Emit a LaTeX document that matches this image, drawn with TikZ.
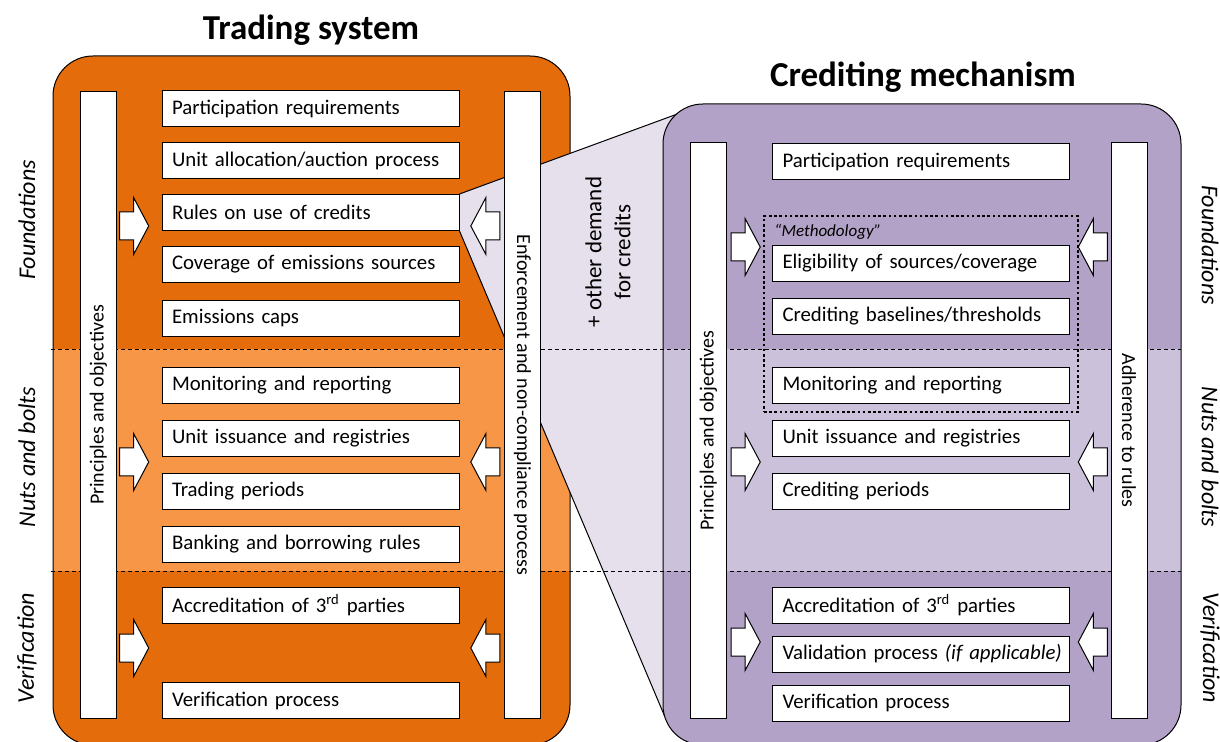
\documentclass[tikz,border=0pt]{standalone}
\usepackage{fontspec}
\setmainfont{Carlito}
\usepackage{tikz}
\usetikzlibrary{positioning, shapes.arrows, fit, backgrounds}

\definecolor{tsdark}{HTML}{E46C0A}
\definecolor{tslight}{HTML}{F79646}
\definecolor{cmdark}{HTML}{B3A2C7}
\definecolor{cmlight}{HTML}{CCC1DA}
\definecolor{funnel}{HTML}{E5E0EC}

\tikzset{
	box/.style={draw, fill=white, line width=0.5pt, text width=138.5pt, inner xsep=5pt, inner ysep=0pt,
		minimum height=18pt, align=left, font=\fontsize{10.4}{12}\selectfont},
	bar/.style={draw, fill=white, line width=0.5pt, minimum height=18pt, inner sep=0pt,
		font=\fontsize{10}{12}\selectfont},
	arr/.style={single arrow, draw, fill=white, line width=0.5pt, inner xsep=0pt, inner ysep=6.75pt,
		minimum height=14.5pt, single arrow head extend=7.25pt, single arrow tip angle=124},
	side/.style={font=\fontsize{12}{14}\selectfont\itshape},
	title/.style={font=\fontsize{17.5}{21}\selectfont\bfseries},
	band/.style={line width=0.4pt, dash pattern=on 2pt off 1.5pt},
	methbox/.style={draw, line width=1.3pt, dash pattern=on 1.3pt off 1.3pt, inner sep=4pt}
}

\begin{document}
\begin{tikzpicture}[x=0.5pt, y=-0.5pt]
		\useasboundingbox (0,0) rectangle (1220,742);

		\node[title] (ts-title) at (311,30) {Trading system};
		\node[title] (cm-title) at (923,77) {Crediting mechanism};

		\node[side, rotate=90] (ts-found) at (27,220) {Foundations};
		\node[side, rotate=90] (ts-nuts) at (27,457) {Nuts and bolts};
		\node[side, rotate=90] (ts-verif) at (27,648) {Verification};
		\node[side, rotate=-90] (cm-found) at (1210,245) {Foundations};
		\node[side, rotate=-90] (cm-nuts) at (1210,457) {Nuts and bolts};
		\node[side, rotate=-90] (cm-verif) at (1210,648) {Verification};

		\node[bar, rotate=90, minimum width=313pt] (ts-prin) at (98.5,405) {Principles and objectives};
		\node[bar, rotate=-90, minimum width=313pt] (ts-enf) at (522.5,405) {Enforcement and non-compliance process};
		\node[bar, rotate=90, minimum width=287.5pt] (cm-prin) at (708.5,430.5) {Principles and objectives};
		\node[bar, rotate=-90, minimum width=287.5pt] (cm-adh) at (1129,430.5) {Adherence to rules};

		\node[box] (ts-part) at (310.5,108.5) {Participation requirements};
		\node[box, below=7.5pt of ts-part] (ts-alloc) {Unit allocation/auction process};
		\node[box, below=7.5pt of ts-alloc] (ts-rules) {Rules on use of credits};
		\node[box, below=7.5pt of ts-rules] (ts-cover) {Coverage of emissions sources};
		\node[box, below=8.5pt of ts-cover] (ts-caps) {Emissions caps};
		\node[box] (ts-mon) at (310.5,385.5) {Monitoring and reporting};
		\node[box, below=8pt of ts-mon] (ts-issue) {Unit issuance and registries};
		\node[box, below=8pt of ts-issue] (ts-period) {Trading periods};
		\node[box, below=8pt of ts-period] (ts-bank) {Banking and borrowing rules};
		\node[box] (ts-accr) at (310.5,605) {Accreditation of 3\textsuperscript{rd} parties};
		\node[box] (ts-ver) at (310.5,700.5) {Verification process};

		\node[box] (cm-part) at (921,161.5) {Participation requirements};
		\node[box] (cm-elig) at (921,263.5) {Eligibility of sources/coverage};
		\node[box, below=8pt of cm-elig] (cm-base) {Crediting baselines/thresholds};
		\node[box] (cm-mon) at (921,385.5) {Monitoring and reporting};
		\node[box, below=8pt of cm-mon] (cm-issue) {Unit issuance and registries};
		\node[box, below=8pt of cm-issue] (cm-period) {Crediting periods};
		\node[box] (cm-accr) at (921,605) {Accreditation of 3\textsuperscript{rd} parties};
		\node[box, below=6pt of cm-accr] (cm-valid) {\mbox{Validation process \textit{(if applicable)}}};
		\node[box, below=6pt of cm-valid] (cm-ver) {Verification process};

		\node[anchor=west, inner sep=0pt, font=\fontsize{8.5}{10}\selectfont\itshape] (meth) at (774,232) {“Methodology”};
		\node[methbox, fit=(meth)(cm-elig)(cm-mon)] (cm-meth) {};

		\node[arr] (ts-pf) at (130.5,226) {};
		\node[arr] (ts-pn) at (130.5,462) {};
		\node[arr] (ts-pv) at (130.5,648) {};
		\node[arr, shape border rotate=180] (ts-ef) at (489,226) {};
		\node[arr, shape border rotate=180] (ts-en) at (489,462) {};
		\node[arr, shape border rotate=180] (ts-ev) at (489,648) {};
		\node[arr] (cm-pf) at (742,247) {};
		\node[arr] (cm-pn) at (742,462) {};
		\node[arr] (cm-pv) at (742,642) {};
		\node[arr, shape border rotate=180] (cm-af) at (1096.5,247) {};
		\node[arr, shape border rotate=180] (cm-an) at (1096.5,462) {};
		\node[arr, shape border rotate=180] (cm-av) at (1096.5,642) {};

		\node[rotate=90, align=center, font=\fontsize{11.5}{14.5}\selectfont] (demand) at (608,252) {+ other demand\\for credits};

		\begin{pgfonlayer}{background}
			\begin{scope}
				\clip[rounded corners=20pt] (53,56) rectangle (570,745);
				\fill[tsdark] (53,56) rectangle (570,745);
				\fill[tslight] (53,349) rectangle (570,571);
			\end{scope}
			\draw[line width=0.5pt, rounded corners=20pt] (53,56) rectangle (570,745);

			\fill[funnel] (ts-rules.north east) -- (691,109) -- (720,400) -- (665,717) -- (ts-rules.south east) -- cycle;
			\draw[line width=0.5pt] (ts-rules.north east) -- (691,109)
				(ts-rules.south east) -- (665,717);

			\begin{scope}
				\clip[rounded corners=20pt] (663,104) rectangle (1181,745);
				\fill[cmdark] (663,104) rectangle (1181,745);
				\fill[cmlight] (663,349) rectangle (1181,571);
			\end{scope}
			\draw[line width=0.5pt, rounded corners=20pt] (663,104) rectangle (1181,745);

			\draw[band] (51,349) -- (1181,349)
				(51,571) -- (1181,571);
		\end{pgfonlayer}
	\end{tikzpicture}
\end{document}
